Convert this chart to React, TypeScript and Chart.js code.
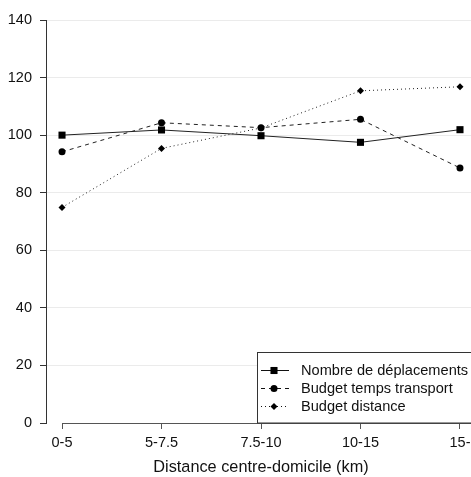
import React, { useEffect, useRef } from "react";
import { Chart, registerables } from "chart.js";

Chart.register(...registerables);

const categories = ["0-5", "5-7.5", "7.5-10", "10-15", "15-"];
const nombreDeplacements = [100.0, 101.8, 99.8, 97.5, 101.9];
const budgetTemps = [94.2, 104.3, 102.6, 105.5, 88.6];
const budgetDistance = [74.9, 95.4, 102.5, 115.4, 116.8];
const seriesLabels = ["Nombre de déplacements", "Budget temps transport", "Budget distance"];
const xTitle = "Distance centre-domicile (km)";
const yMin = 0;
const yMax = 140;
const yStep = 20;

const FONT = "'Liberation Sans', Arial, sans-serif";

const styles = [
  { pointStyle: "rect", radius: 5, dash: [] as number[] },
  { pointStyle: "circle", radius: 3.5, dash: [4, 4] },
  { pointStyle: "rectRot", radius: 3.5, dash: [1, 3] },
];

export default function App() {
  const ref = useRef<HTMLCanvasElement | null>(null);

  useEffect(() => {
    const canvas = ref.current;
    if (!canvas) return;
    const seriesData = [nombreDeplacements, budgetTemps, budgetDistance];

    const decor = {
      id: "decor",
      afterDraw(chart: any) {
        const { ctx, chartArea, scales } = chart;
        const xs = scales.x;
        ctx.save();
        // x axis line (R style, from first tick)
        ctx.strokeStyle = "#555";
        ctx.lineWidth = 1;
        ctx.beginPath();
        ctx.moveTo(xs.getPixelForValue(0), chartArea.bottom + 0.5);
        ctx.lineTo(chart.width, chartArea.bottom + 0.5);
        ctx.stroke();

        // x title
        ctx.fillStyle = "#111";
        ctx.font = `16.3px ${FONT}`;
        ctx.textAlign = "center";
        ctx.textBaseline = "middle";
        ctx.fillText(xTitle, (chartArea.left + chartArea.right) / 2, chartArea.bottom + 45);

        // legend
        const bx = 257.5;
        const by = 352.5;
        const bw = chart.width - bx + 5;
        const bh = chartArea.bottom - by;
        ctx.fillStyle = "#fff";
        ctx.fillRect(bx, by, bw, bh);
        ctx.strokeStyle = "#333";
        ctx.strokeRect(bx, by, bw, bh);
        ctx.font = `14.6px ${FONT}`;
        ctx.textAlign = "left";
        ctx.textBaseline = "middle";
        seriesLabels.forEach((lab, i) => {
          const y = Math.round(370 + i * 18) + 0.5;
          ctx.strokeStyle = "#111";
          ctx.setLineDash(styles[i].dash);
          ctx.beginPath();
          ctx.moveTo(261, y);
          ctx.lineTo(289, y);
          ctx.stroke();
          ctx.setLineDash([]);
          ctx.fillStyle = "#000";
          const cx = 274;
          const r = styles[i].radius;
          ctx.beginPath();
          if (i === 0) {
            const s = Math.SQRT1_2 * r;
            ctx.rect(cx - s, y - s, 2 * s, 2 * s);
          } else if (i === 1) {
            ctx.arc(cx, y, r, 0, Math.PI * 2);
          } else {
            ctx.moveTo(cx, y - r);
            ctx.lineTo(cx + r, y);
            ctx.lineTo(cx, y + r);
            ctx.lineTo(cx - r, y);
            ctx.closePath();
          }
          ctx.fill();
          ctx.fillStyle = "#111";
          ctx.fillText(lab, 301, y);
        });
        ctx.restore();
      },
    };

    const chart = new Chart(canvas, {
      type: "line",
      data: {
        datasets: seriesData.map((arr, i) => ({
          label: seriesLabels[i],
          data: arr.map((v, k) => ({ x: k, y: v })),
          borderColor: "#222",
          borderWidth: 1,
          borderDash: styles[i].dash,
          pointStyle: styles[i].pointStyle as any,
          pointRadius: styles[i].radius,
          pointBackgroundColor: "#000",
          pointBorderColor: "#000",
          pointBorderWidth: 0,
          tension: 0,
          fill: false,
        })),
      },
      plugins: [decor],
      options: {
        responsive: false,
        animation: false,
        devicePixelRatio: 1,
        layout: { padding: { top: 20, right: 14, left: 0, bottom: 0 } },
        plugins: {
          legend: { display: false },
          tooltip: { enabled: false },
          title: { display: false },
        },
        scales: {
          x: {
            type: "linear",
            min: -0.161,
            max: categories.length - 1 + 0.161,
            afterBuildTicks: (s: any) => {
              s.ticks = categories.map((_, i) => ({ value: i }));
            },
            afterFit: (s: any) => {
              s.height = 54;
            },
            border: { display: false },
            grid: {
              drawOnChartArea: false,
              drawTicks: true,
              tickLength: 6,
              tickColor: "#555",
            },
            ticks: {
              autoSkip: false,
              maxRotation: 0,
              padding: 5,
              color: "#111",
              font: { family: FONT, size: 14.5 },
              callback: (v: any) => categories[Math.round(v)] ?? "",
            },
          },
          y: {
            min: yMin,
            max: yMax,
            afterFit: (s: any) => {
              s.width = 46;
            },
            border: { display: true, color: "#333", width: 1 },
            grid: {
              color: (c: any) => (c.tick && c.tick.value === 0 ? "rgba(0,0,0,0)" : "#ebebeb"),
              tickColor: "#333",
              tickLength: 6,
              drawTicks: true,
            },
            ticks: {
              stepSize: yStep,
              padding: 8,
              color: "#111",
              font: { family: FONT, size: 14.5 },
            },
          },
        },
      },
    });
    return () => chart.destroy();
  }, []);

  return (
    <div
      style={{
        position: "fixed",
        left: 0,
        top: 0,
        width: 471,
        height: 477,
        overflow: "hidden",
        background: "#fff",
      }}
    >
      <canvas ref={ref} width={490} height={477} style={{ display: "block", width: 490, height: 477 }} />
    </div>
  );
}
